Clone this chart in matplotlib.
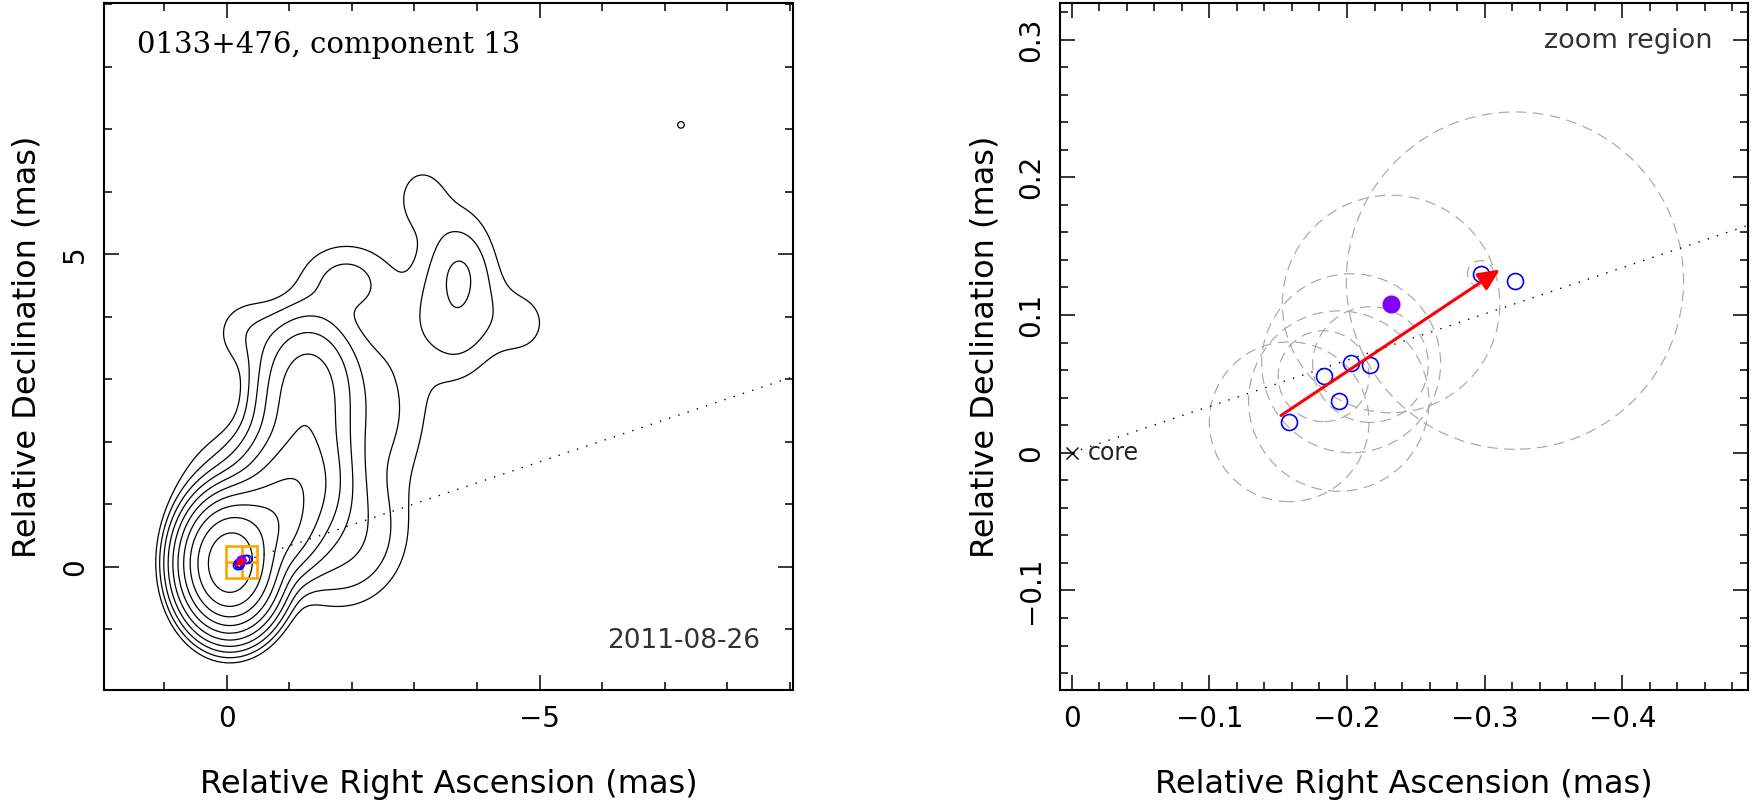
import numpy as np
import matplotlib
matplotlib.use('Agg')
import matplotlib.pyplot as plt
from matplotlib.patches import Circle, Rectangle, FancyArrowPatch
from matplotlib.ticker import MultipleLocator, FuncFormatter

plt.rcParams['font.family'] = ['DejaVu Sans']

# Gaussian model of the VLBA map (offsets in mas, peak in map units)
comp_ra = [-0.05, -0.60, -1.05, -1.25, -1.30, -2.40, -1.80, -0.20, -0.35, -1.90, -2.90,
           -3.70, -3.73, -4.70, -3.10, -7.26]
comp_dec = [0.05, 0.65, 1.25, 1.95, 3.00, 2.50, 0.50, 1.30, 3.75, 4.60, 3.90,
            4.40, 4.71, 3.90, 5.90, 7.07]
comp_amp = [900.0, 110.0, 40.0, 24.0, 18.0, 2.4, 4.5, 2.2, 1.6, 2.3, 0.7,
            3.8, 1.0, 1.3, 1.4, 1.15]
comp_sra = [0.32, 0.40, 0.42, 0.40, 0.40, 0.55, 0.60, 0.60, 0.40, 0.50, 0.50,
            0.40, 0.20, 0.40, 0.30, 0.10]
comp_sdec = [0.43, 0.40, 0.45, 0.65, 0.55, 0.90, 0.65, 0.60, 0.40, 0.40, 0.50,
             0.80, 0.28, 0.45, 0.40, 0.10]
contour_levels = [1, 2, 4, 8, 16, 32, 64, 128, 256, 512]

# component 13 positions at each epoch (zoom panel)
pos_ra = [-0.158, -0.183, -0.194, -0.203, -0.217, -0.297, -0.322]
pos_dec = [0.0225, 0.0556, 0.0375, 0.065, 0.064, 0.130, 0.125]
size_r = [0.058, 0.033, 0.0655, 0.065, 0.042, 0.0095, 0.1225]
epoch_ra, epoch_dec, epoch_r = -0.232, 0.108, 0.079

# fitted motion vector
vec_start = (-0.152, 0.027)
vec_end = (-0.311, 0.133)

# jet direction line through the core (dec / ra)
jet_slope = -0.336

# zoom window
zoom_ra = (0.0085, -0.4913)
zoom_dec = (-0.1723, 0.3266)

source = '0133+476, component 13'
epoch = '2011-08-26'


def fmt(v, pos):
    if abs(v) < 1e-9:
        return '0'
    return ('%g' % round(v, 3)).replace('-', '\u2212')


def style_axes(ax, major, minor):
    ax.xaxis.set_major_locator(MultipleLocator(major))
    ax.xaxis.set_minor_locator(MultipleLocator(minor))
    ax.yaxis.set_major_locator(MultipleLocator(major))
    ax.yaxis.set_minor_locator(MultipleLocator(minor))
    ax.xaxis.set_major_formatter(FuncFormatter(fmt))
    ax.yaxis.set_major_formatter(FuncFormatter(fmt))
    ax.tick_params(which='both', direction='in', top=True, right=True, width=1.1, labelsize=20)
    ax.tick_params(which='major', length=11)
    ax.tick_params(which='minor', length=5.5)
    ax.tick_params(axis='x', which='major', pad=11)
    ax.tick_params(axis='y', which='major', pad=11)
    for lab in ax.get_yticklabels():
        lab.set_rotation(90)
        lab.set_va('center')
    for s in ax.spines.values():
        s.set_linewidth(1.5)
    ax.set_xlabel('Relative Right Ascension (mas)', fontsize=23)
    ax.set_ylabel('Relative Declination (mas)', fontsize=23)


fig = plt.figure(figsize=(17.53, 8.11), dpi=100)
ax1 = fig.add_axes([104 / 1753, 121 / 811, 689 / 1753, 687 / 811])
ax2 = fig.add_axes([1060 / 1753, 121 / 811, 688 / 1753, 687 / 811])

# ---- left: full map ----
gx, gy = np.meshgrid(np.linspace(2.3, -9.4, 700), np.linspace(-2.3, 9.4, 700))
gz = np.zeros_like(gx)
for x0, y0, a, sx, sy in zip(comp_ra, comp_dec, comp_amp, comp_sra, comp_sdec):
    gz += a * np.exp(-((gx - x0) ** 2 / (2 * sx ** 2) + (gy - y0) ** 2 / (2 * sy ** 2)))
ax1.contour(gx, gy, gz, levels=contour_levels, colors='k', linewidths=0.9)

xl = np.array([0, -9.5])
ax1.plot(xl, jet_slope * xl, color='k', lw=1, ls=(0, (1, 6)))
ax1.add_patch(Rectangle((zoom_ra[1], zoom_dec[0]), zoom_ra[0] - zoom_ra[1], zoom_dec[1] - zoom_dec[0],
                        fill=False, ec='orange', lw=1.9, zorder=5))
ax1.plot(zoom_ra, [sum(zoom_dec) / 2] * 2, color='orange', lw=1.9, zorder=5)
ax1.plot([sum(zoom_ra) / 2] * 2, zoom_dec, color='orange', lw=1.9, zorder=5)
ax1.plot(pos_ra, pos_dec, 'o', mfc='none', mec='blue', ms=6, mew=1.0, zorder=6)
ax1.plot(epoch_ra, epoch_dec, 'o', color='#7f00ff', ms=6.5, zorder=6)
ax1.add_patch(FancyArrowPatch(vec_start, vec_end, arrowstyle='-|>,head_length=0.4,head_width=0.2',
                              mutation_scale=8, color='red', lw=2.0, shrinkA=0, shrinkB=0, zorder=7))

ax1.set_xlim(1.96, -9.05)
ax1.set_ylim(-1.97, 9.02)
style_axes(ax1, 5, 1)
ax1.text(0.048, 0.9276, source, transform=ax1.transAxes, family='DejaVu Serif', fontsize=21,
         ha='left', va='baseline')
ax1.text(0.952, 0.0713, epoch, transform=ax1.transAxes, fontsize=19, color='#333333',
         ha='right', va='center')

# ---- right: zoom region ----
for x0, y0, r in zip(pos_ra, pos_dec, size_r):
    ax2.add_patch(Circle((x0, y0), r, fill=False, ec='#a8a8a8', lw=0.85, ls=(0, (9, 5.5))))
ax2.add_patch(Circle((epoch_ra, epoch_dec), epoch_r, fill=False, ec='#a8a8a8', lw=0.85, ls=(0, (9, 5.5))))

xr = np.array([0, -0.6])
ax2.plot(xr, jet_slope * xr, color='k', lw=1, ls=(0, (1, 6)))
ax2.plot(0, 0, 'x', color='k', ms=9, mew=1)
ax2.text(-0.0118, 0, 'core', fontsize=17, color='#222222', ha='left', va='center')
ax2.plot(pos_ra, pos_dec, 'o', mfc='none', mec='blue', ms=11.5, mew=1.2, zorder=6)
ax2.plot(epoch_ra, epoch_dec, 'o', color='#7f00ff', ms=12, zorder=6)
ax2.add_patch(FancyArrowPatch(vec_start, vec_end, arrowstyle='-|>,head_length=0.65,head_width=0.3',
                              mutation_scale=20, color='red', lw=2.2, shrinkA=0, shrinkB=0, zorder=7))

ax2.set_xlim(*zoom_ra)
ax2.set_ylim(*zoom_dec)
style_axes(ax2, 0.1, 0.02)
ax2.text(0.949, 0.9447, 'zoom region', transform=ax2.transAxes, fontsize=19.5, color='#333333',
         ha='right', va='center')

ax1.xaxis.set_label_coords(0.5, -0.137)
ax2.xaxis.set_label_coords(0.5, -0.137)
ax1.xaxis.label.set_va('center')
ax2.xaxis.label.set_va('center')
ax1.yaxis.set_label_coords(-0.112, 0.5)
ax2.yaxis.set_label_coords(-0.109, 0.5)
ax1.yaxis.label.set_va('center')
ax2.yaxis.label.set_va('center')

fig.savefig('out.png', dpi=100)
